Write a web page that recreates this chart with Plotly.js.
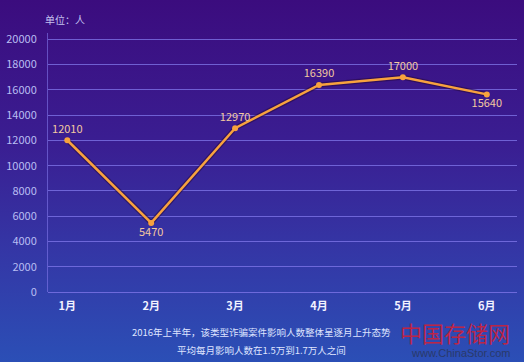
<!DOCTYPE html>
<html>
<head>
<meta charset="utf-8">
<script src="https://cdn.plot.ly/plotly-3.0.1.min.js"></script>
<style>
html,body{margin:0;padding:0;}
body{width:524px;height:362px;overflow:hidden;background:linear-gradient(180deg,#3b0c7e 0%,#3a1e92 40%,#3437a6 70%,#2b4fb6 100%);}
#chart{width:524px;height:362px;}
</style>
</head>
<body>
<div id="chart"></div>
<script>
const months = ['1月','2月','3月','4月','5月','6月'];
const victims = [12010, 5470, 12970, 16390, 17000, 15640];
const labelPos = ['top center','bottom center','top center','top center','top center','bottom center'];
const yTicks = [0,2000,4000,6000,8000,10000,12000,14000,16000,18000,20000];
const unitLabel = '单位：人';
const noteLines = ['2016年上半年，该类型诈骗案件影响人数整体呈逐月上升态势','平均每月影响人数在1.5万到1.7万人之间'];

const font = '"Noto Sans CJK SC","Noto Sans",sans-serif';

const traces = [
  {
    x: months, y: victims, type: 'scatter', mode: 'lines',
    line: {color: 'rgba(40,10,60,0.55)', width: 5},
    hoverinfo: 'skip', showlegend: false
  },
  {
    x: months, y: victims, type: 'scatter', mode: 'lines+markers+text',
    line: {color: '#f8a23e', width: 2.5},
    marker: {color: '#f8a23e', size: 6},
    text: victims.map(String),
    textposition: labelPos,
    textfont: {family: font, size: 11, color: '#f3c9a0'},
    showlegend: false
  }
];

const layout = {
  width: 524, height: 362,
  margin: {l: 48, r: 7, t: 33, b: 70},
  paper_bgcolor: 'rgba(0,0,0,0)',
  plot_bgcolor: 'rgba(0,0,0,0)',
  font: {family: font},
  xaxis: {
    type: 'category', range: [-0.23, 5.36],
    showgrid: false, zeroline: false, showline: false,
    ticks: 'outside', ticklen: 4, tickcolor: 'rgba(0,0,0,0)',
    tickfont: {family: font, size: 11, color: '#f2f2ff', weight: 'bold'}
  },
  yaxis: {
    range: [0, 20500], tickvals: yTicks, ticktext: yTicks.map(String),
    showgrid: true, gridcolor: 'rgba(130,120,235,0.75)', gridwidth: 1,
    zeroline: true, zerolinecolor: 'rgba(130,120,235,0.75)', zerolinewidth: 1,
    showline: true, linecolor: 'rgba(130,120,235,0.6)', linewidth: 1,
    ticks: 'outside', ticklen: 8, tickcolor: 'rgba(0,0,0,0)',
    tickfont: {family: font, size: 11, color: '#b9bdf2'}
  },
  annotations: [
    {xref: 'paper', yref: 'paper', x: -0.01, y: 1.0, yshift: 14, xanchor: 'left', yanchor: 'middle',
     text: unitLabel, showarrow: false, font: {family: font, size: 10, color: '#c4c2f0'}},
    {xref: 'paper', yref: 'paper', x: 0.455, y: 0, yshift: -40, xanchor: 'center', yanchor: 'middle',
     text: noteLines[0], showarrow: false, font: {family: font, size: 9.5, color: '#dfe4ff'}},
    {xref: 'paper', yref: 'paper', x: 0.455, y: 0, yshift: -58, xanchor: 'center', yanchor: 'middle',
     text: noteLines[1], showarrow: false, font: {family: font, size: 9.5, color: '#dfe4ff'}},
    {xref: 'paper', yref: 'paper', x: 0.99, y: 0, yshift: -40, xanchor: 'right', yanchor: 'middle',
     text: '中国存储网', showarrow: false, font: {family: font, size: 22, color: 'rgba(215,30,50,0.85)'}},
    {xref: 'paper', yref: 'paper', x: 0.99, y: 0, yshift: -61, xanchor: 'right', yanchor: 'middle',
     text: 'www.ChinaStor.com', showarrow: false, font: {family: '"Liberation Sans",Arial,sans-serif', size: 11, color: '#2a3a6a'}}
  ]
};

Plotly.newPlot('chart', traces, layout, {displayModeBar: false, staticPlot: true});
</script>
</body>
</html>
